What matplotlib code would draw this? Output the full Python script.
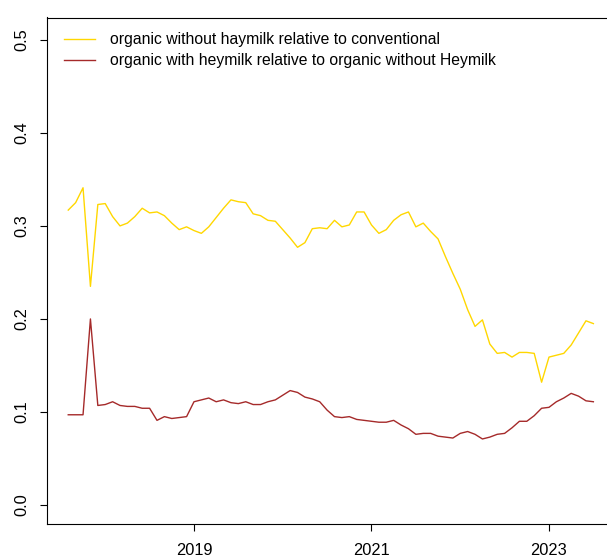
## price premium time series, base-graphics look
import numpy as np
import pandas as pd
import matplotlib.pyplot as plt

plt.rcParams['font.family'] = ['Liberation Sans', 'DejaVu Sans']

## monthly series, aug 2017 to jul 2023
startMonth = '2017-08'
nMonths = 72

withoutHaymilk = [0.317, 0.325, 0.341, 0.235, 0.323, 0.324, 0.310, 0.300, 0.303, 0.310,
                  0.319, 0.314, 0.315, 0.311, 0.303, 0.296, 0.299, 0.295, 0.292, 0.299,
                  0.309, 0.319, 0.328, 0.326, 0.325, 0.313, 0.311, 0.306, 0.305, 0.296,
                  0.287, 0.277, 0.282, 0.297, 0.298, 0.297, 0.306, 0.299, 0.301, 0.315,
                  0.315, 0.301, 0.292, 0.296, 0.306, 0.312, 0.315, 0.299, 0.303, 0.294,
                  0.286, 0.267, 0.249, 0.232, 0.210, 0.192, 0.199, 0.173, 0.163, 0.164,
                  0.159, 0.164, 0.164, 0.163, 0.132, 0.159, 0.161, 0.163, 0.172, 0.185,
                  0.198, 0.195]

withHaymilk = [0.097, 0.097, 0.097, 0.200, 0.107, 0.108, 0.111, 0.107, 0.106, 0.106,
               0.104, 0.104, 0.091, 0.095, 0.093, 0.094, 0.095, 0.111, 0.113, 0.115,
               0.111, 0.113, 0.110, 0.109, 0.111, 0.108, 0.108, 0.111, 0.113, 0.118,
               0.123, 0.121, 0.116, 0.114, 0.111, 0.102, 0.095, 0.094, 0.095, 0.092,
               0.091, 0.090, 0.089, 0.089, 0.091, 0.086, 0.082, 0.076, 0.077, 0.077,
               0.074, 0.073, 0.072, 0.077, 0.079, 0.076, 0.071, 0.073, 0.076, 0.077,
               0.083, 0.090, 0.090, 0.096, 0.104, 0.105, 0.111, 0.115, 0.120, 0.117,
               0.112, 0.111]

labels = ['organic without haymilk relative to conventional',
          'organic with heymilk relative to organic without Heymilk']

yearTicks = [2019, 2021, 2023]
valueTicks = [0.0, 0.1, 0.2, 0.3, 0.4, 0.5]

## time as decimal years, like a ts object
months = pd.date_range(startMonth, periods=nMonths, freq='MS')
t = months.year + (months.month - 1) / 12

fig = plt.figure(figsize=(6.07, 5.60), dpi=100)
ax = fig.add_axes([47/607, 36/560, 569/607, 506.5/560])

ax.plot(t, withoutHaymilk, color='#FFD700', lw=1.0, label=labels[0])
ax.plot(t, withHaymilk, color='#A52A2A', lw=1.0, label=labels[1])

ax.set_xlim(2017.344, 2023.755)
ax.set_ylim(-0.0204, 0.524)
ax.set_xticks(yearTicks)
ax.set_xticklabels([str(y) for y in yearTicks])
ax.set_yticks(valueTicks)
ax.set_yticklabels(['%.1f' % v for v in valueTicks])

for s in ax.spines.values():
    s.set_linewidth(0.8)
    s.set_color('black')

ax.tick_params(axis='both', direction='out', length=5, width=0.8, labelsize=11.8, colors='black')
ax.tick_params(axis='x', pad=9)
ax.tick_params(axis='y', pad=8)
for lab in ax.get_yticklabels():
    lab.set_rotation(90)
    lab.set_va('center')

ax.legend(loc='upper left', bbox_to_anchor=(64/607, 1 - 32/560), bbox_transform=fig.transFigure,
          frameon=False, fontsize=11.3, handlelength=2.0, handletextpad=0.95,
          labelspacing=0.4, borderpad=0, borderaxespad=0)

fig.savefig('out.png', dpi=100)
